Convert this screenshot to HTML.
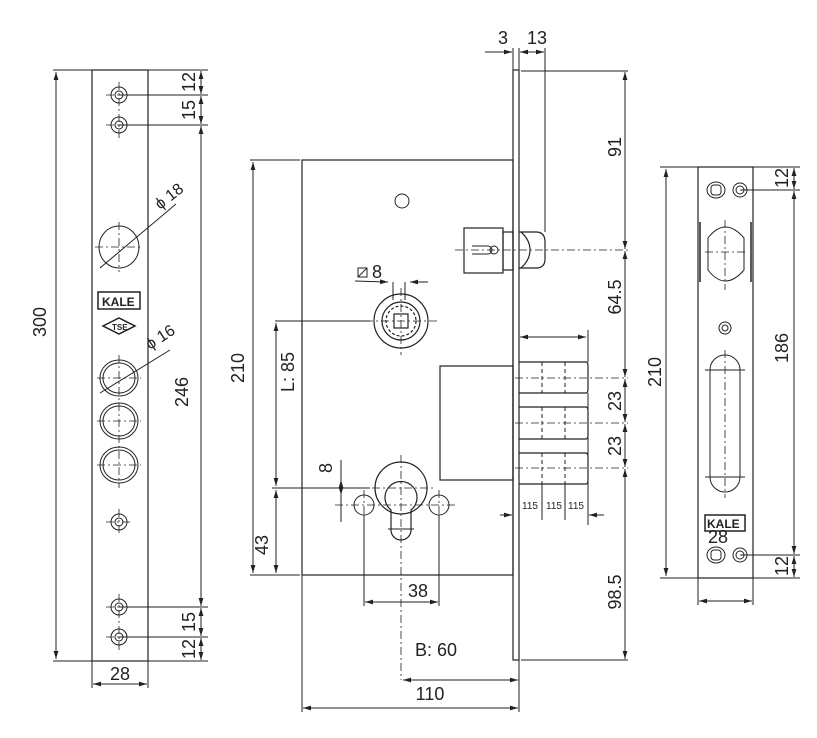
<!DOCTYPE html>
<html><head><meta charset="utf-8"><style>
html,body{margin:0;padding:0;background:#fff;}
svg{display:block;}
text{font-family:"Liberation Sans",sans-serif;fill:#222;}
</style></head><body>
<svg width="817" height="738" viewBox="0 0 817 738" xmlns="http://www.w3.org/2000/svg">
<defs>
<marker id="a" viewBox="0 0 10 10" refX="10" refY="5" markerWidth="8" markerHeight="8" orient="auto-start-reverse" markerUnits="userSpaceOnUse"><path d="M0,2 L10,5 L0,8 z" fill="#222"/></marker>
</defs>
<g stroke="#222" stroke-width="1.2" fill="none">
<!-- LEFT PLATE -->
<rect x="92" y="70" width="56" height="591"/>
<g stroke-width="1">
<line x1="53" y1="70" x2="92" y2="70"/><line x1="53" y1="661" x2="92" y2="661"/>
<line x1="56" y1="72" x2="56" y2="659" marker-start="url(#a)" marker-end="url(#a)"/>
<line x1="148" y1="70" x2="208" y2="70"/><line x1="148" y1="661" x2="208" y2="661"/>
<line x1="119" y1="95" x2="208" y2="95"/><line x1="119" y1="125" x2="208" y2="125"/>
<line x1="119" y1="607" x2="208" y2="607"/><line x1="119" y1="637" x2="208" y2="637"/>
<line x1="201" y1="71" x2="201" y2="94" marker-start="url(#a)" marker-end="url(#a)"/>
<line x1="201" y1="96" x2="201" y2="124" marker-start="url(#a)" marker-end="url(#a)"/>
<line x1="201" y1="126" x2="201" y2="606" marker-start="url(#a)" marker-end="url(#a)"/>
<line x1="201" y1="608" x2="201" y2="636" marker-start="url(#a)" marker-end="url(#a)"/>
<line x1="201" y1="638" x2="201" y2="660" marker-start="url(#a)" marker-end="url(#a)"/>
<line x1="92" y1="661" x2="92" y2="688"/><line x1="148" y1="661" x2="148" y2="688"/>
<line x1="93" y1="684" x2="147" y2="684" marker-start="url(#a)" marker-end="url(#a)"/>
</g>
<!-- holes -->
<g stroke-width="1">
<circle cx="119" cy="95" r="8"/><circle cx="119" cy="95" r="4"/>
<circle cx="119" cy="125" r="8"/><circle cx="119" cy="125" r="4"/>
<circle cx="119" cy="522" r="8"/><circle cx="119" cy="522" r="4"/>
<circle cx="119" cy="607" r="8"/><circle cx="119" cy="607" r="4"/>
<circle cx="119" cy="637" r="8"/><circle cx="119" cy="637" r="4"/>
<ellipse cx="119" cy="247" rx="20" ry="21"/>
<ellipse cx="119" cy="378" rx="19" ry="18"/><ellipse cx="119" cy="378" rx="16" ry="15"/>
<ellipse cx="119" cy="421" rx="19" ry="18"/><ellipse cx="119" cy="421" rx="16" ry="15"/>
<ellipse cx="119" cy="465" rx="19" ry="18"/><ellipse cx="119" cy="465" rx="16" ry="15"/>
<line x1="100" y1="268" x2="176" y2="204"/><line x1="100" y1="393" x2="170" y2="350"/>
</g>
<g stroke-width="0.8" stroke-dasharray="8 3 2 3">
<line x1="119" y1="82" x2="119" y2="138"/><line x1="106" y1="95" x2="132" y2="95"/><line x1="106" y1="125" x2="132" y2="125"/>
<line x1="119" y1="222" x2="119" y2="272"/><line x1="95" y1="247" x2="143" y2="247"/>
<line x1="119" y1="355" x2="119" y2="488"/><line x1="97" y1="378" x2="141" y2="378"/><line x1="97" y1="421" x2="141" y2="421"/><line x1="97" y1="465" x2="141" y2="465"/>
<line x1="106" y1="522" x2="132" y2="522"/><line x1="119" y1="509" x2="119" y2="535"/>
<line x1="119" y1="594" x2="119" y2="650"/><line x1="106" y1="607" x2="132" y2="607"/><line x1="106" y1="637" x2="132" y2="637"/>
</g>
<rect x="98" y="292" width="42" height="17" stroke-width="1.5"/>
<path d="M103,326 L119,318 L135,326 L119,334 Z" stroke-width="1.5"/>

<!-- MAIN LOCK -->
<rect x="302" y="160" width="211" height="415"/>
<rect x="513" y="70" width="6" height="590"/>
<line x1="302" y1="575" x2="302" y2="712" stroke-width="1"/>
<line x1="519" y1="660" x2="519" y2="712" stroke-width="1"/>
<g stroke-width="1">
<line x1="250" y1="160" x2="300" y2="160"/><line x1="250" y1="575" x2="300" y2="575"/>
<line x1="253" y1="162" x2="253" y2="573" marker-start="url(#a)" marker-end="url(#a)"/>
<line x1="275" y1="321" x2="370" y2="321"/><line x1="272" y1="488" x2="370" y2="488"/>
<line x1="276" y1="323" x2="276" y2="486" marker-start="url(#a)" marker-end="url(#a)"/>
<line x1="276" y1="490" x2="276" y2="573" marker-start="url(#a)" marker-end="url(#a)"/>
<line x1="303" y1="708" x2="518" y2="708" marker-start="url(#a)" marker-end="url(#a)"/>
<line x1="403" y1="680" x2="518" y2="680" marker-start="url(#a)" marker-end="url(#a)"/>
<line x1="364" y1="515" x2="364" y2="606"/><line x1="439" y1="515" x2="439" y2="606"/>
<line x1="365" y1="602" x2="438" y2="602" marker-start="url(#a)" marker-end="url(#a)"/>
<line x1="341" y1="460" x2="341" y2="522"/>
<line x1="341" y1="480" x2="341" y2="495" marker-start="url(#a)" marker-end="url(#a)"/>
<!-- top dims -->
<line x1="513" y1="48" x2="513" y2="70"/><line x1="519" y1="48" x2="519" y2="70"/><line x1="545" y1="48" x2="545" y2="232"/>
<line x1="485" y1="52" x2="512" y2="52" marker-end="url(#a)"/>
<line x1="520" y1="52" x2="544" y2="52" marker-start="url(#a)" marker-end="url(#a)"/>
<line x1="521" y1="71" x2="628" y2="71"/><line x1="521" y1="660" x2="628" y2="660"/>
<line x1="625" y1="72" x2="625" y2="249" marker-start="url(#a)" marker-end="url(#a)"/>
<line x1="625" y1="251" x2="625" y2="377" marker-start="url(#a)" marker-end="url(#a)"/>
<line x1="625" y1="379" x2="625" y2="422" marker-start="url(#a)" marker-end="url(#a)"/>
<line x1="625" y1="424" x2="625" y2="467" marker-start="url(#a)" marker-end="url(#a)"/>
<line x1="625" y1="469" x2="625" y2="659" marker-start="url(#a)" marker-end="url(#a)"/>
<line x1="520" y1="337" x2="586" y2="337" marker-start="url(#a)" marker-end="url(#a)"/>
<line x1="588" y1="330" x2="588" y2="362"/>
<line x1="500" y1="515" x2="512" y2="515" marker-end="url(#a)"/>
<line x1="604" y1="515" x2="589" y2="515" marker-end="url(#a)"/>
<line x1="588" y1="393" x2="588" y2="525"/>
<line x1="542" y1="484" x2="542" y2="520"/><line x1="565" y1="484" x2="565" y2="520"/>
<!-- diameter 8 -->
<line x1="355" y1="281" x2="388" y2="282" marker-end="url(#a)"/>
<line x1="428" y1="282" x2="410" y2="282" marker-end="url(#a)"/>
<line x1="393" y1="282" x2="393" y2="300"/><line x1="405" y1="282" x2="405" y2="300"/>
<rect x="358" y="268" width="9" height="9"/><line x1="358" y1="277" x2="367" y2="268"/>
</g>
<circle cx="402" cy="201" r="7" stroke-width="1"/>
<!-- spindle -->
<circle cx="401" cy="321" r="27"/><circle cx="401" cy="321" r="19"/><circle cx="401" cy="321" r="15" stroke-dasharray="3 2"/>
<rect x="394" y="314" width="14" height="14"/>
<!-- latch -->
<rect x="464" y="228" width="39" height="45"/>
<rect x="503" y="232" width="10" height="38"/>
<path d="M519,232 L536,232 Q545,232 545,242 L545,259 Q545,268 536,268 L519,268" fill="none"/>
<path d="M521,232 Q530,240 530,250 Q530,260 521,268" />
<path d="M472,246 L488,246 A4,4 0 0 1 488,254 L472,254" stroke-width="1"/>
<circle cx="494" cy="250" r="4" stroke-width="1"/>
<!-- bolts -->
<rect x="440" y="366" width="73" height="114"/>
<path d="M519,362 L586,362 Q588,362 588,366 L588,389 Q588,393 586,393 L519,393"/>
<path d="M519,407 L586,407 Q588,407 588,411 L588,435 Q588,439 586,439 L519,439"/>
<path d="M519,453 L586,453 Q588,453 588,457 L588,480 Q588,484 586,484 L519,484"/>
<g stroke-width="1" stroke-dasharray="4 3">
<line x1="542" y1="362" x2="542" y2="393"/><line x1="565" y1="362" x2="565" y2="393"/>
<line x1="542" y1="407" x2="542" y2="439"/><line x1="565" y1="407" x2="565" y2="439"/>
<line x1="542" y1="453" x2="542" y2="484"/><line x1="565" y1="453" x2="565" y2="484"/>
</g>
<!-- cylinder -->
<circle cx="401" cy="488" r="26"/>
<path d="M391,510 A16,16 0 1 1 411,510 L411,530 A10,10 0 0 1 391,530 Z"/>
<circle cx="364" cy="505" r="10" stroke-width="1"/><circle cx="439" cy="505" r="10" stroke-width="1"/>
<line x1="388" y1="529" x2="414" y2="529" stroke-width="1"/>
<g stroke-width="0.8" stroke-dasharray="8 3 2 3">
<line x1="401" y1="455" x2="401" y2="680"/><line x1="340" y1="488" x2="435" y2="488"/>
<line x1="335" y1="505" x2="455" y2="505"/>
<line x1="364" y1="490" x2="364" y2="520"/><line x1="439" y1="490" x2="439" y2="520"/>
<line x1="401" y1="288" x2="401" y2="355"/><line x1="365" y1="321" x2="437" y2="321"/>
<line x1="455" y1="250" x2="628" y2="250"/>
<line x1="515" y1="378" x2="628" y2="378"/><line x1="515" y1="423" x2="628" y2="423"/><line x1="515" y1="468" x2="628" y2="468"/>
</g>

<!-- RIGHT PLATE -->
<rect x="698" y="167" width="55" height="411"/>
<g stroke-width="1">
<line x1="660" y1="167" x2="698" y2="167"/><line x1="660" y1="578" x2="698" y2="578"/>
<line x1="666" y1="169" x2="666" y2="576" marker-start="url(#a)" marker-end="url(#a)"/>
<line x1="753" y1="167" x2="800" y2="167"/><line x1="753" y1="578" x2="800" y2="578"/>
<line x1="740" y1="190" x2="800" y2="190"/><line x1="740" y1="555" x2="800" y2="555"/>
<line x1="794" y1="168" x2="794" y2="189" marker-start="url(#a)" marker-end="url(#a)"/>
<line x1="794" y1="191" x2="794" y2="554" marker-start="url(#a)" marker-end="url(#a)"/>
<line x1="794" y1="556" x2="794" y2="577" marker-start="url(#a)" marker-end="url(#a)"/>
<line x1="698" y1="578" x2="698" y2="605"/><line x1="753" y1="578" x2="753" y2="605"/>
<line x1="699" y1="601" x2="752" y2="601" marker-start="url(#a)" marker-end="url(#a)"/>
<ellipse cx="716" cy="190" rx="9" ry="8"/><rect x="711" y="185" width="10" height="10" rx="3"/>
<circle cx="740" cy="190" r="7"/><circle cx="740" cy="190" r="4"/>
<ellipse cx="716" cy="555" rx="9" ry="8"/><rect x="711" y="550" width="10" height="10" rx="3"/>
<circle cx="740" cy="555" r="7"/><circle cx="740" cy="555" r="4"/>
<circle cx="725" cy="328" r="6"/><circle cx="725" cy="328" r="3"/>
<path d="M708,238 Q725,216 744,238 L744,270 Q725,292 708,270 Z"/>
<line x1="700" y1="222" x2="700" y2="282" stroke-width="1.5"/><line x1="751" y1="222" x2="751" y2="282" stroke-width="1.5"/>
<path d="M710,370 A15,15 0 0 1 740,370 L740,477 A15,15 0 0 1 710,477 Z"/>
<line x1="705" y1="370" x2="745" y2="370"/><line x1="705" y1="477" x2="745" y2="477"/>
</g>
<rect x="705" y="515" width="40" height="16" stroke-width="1.5"/>
<g stroke-width="0.8" stroke-dasharray="8 3 2 3">
<line x1="725" y1="220" x2="725" y2="290"/><line x1="705" y1="252" x2="748" y2="252"/>
<line x1="725" y1="350" x2="725" y2="498"/>
</g>
</g>
<!-- TEXT -->
<g font-size="18">
<text x="46" y="322" transform="rotate(-90 46 322)" text-anchor="middle">300</text>
<text x="195" y="82" transform="rotate(-90 195 82)" text-anchor="middle">12</text>
<text x="195" y="110" transform="rotate(-90 195 110)" text-anchor="middle">15</text>
<text x="188" y="392" transform="rotate(-90 188 392)" text-anchor="middle">246</text>
<text x="195" y="622" transform="rotate(-90 195 622)" text-anchor="middle">15</text>
<text x="195" y="649" transform="rotate(-90 195 649)" text-anchor="middle">12</text>
<text x="120" y="680" text-anchor="middle">28</text>
<text x="160" y="210" transform="rotate(-38 160 210)" font-size="16">ϕ 18</text>
<text x="150" y="350" transform="rotate(-33 150 350)" font-size="16">ϕ 16</text>
<text x="102" y="306" font-size="12" font-weight="bold">KALE</text>
<text x="112" y="330" font-size="8" font-weight="bold">TSE</text>
<text x="244" y="368" transform="rotate(-90 244 368)" text-anchor="middle">210</text>
<text x="294" y="372" transform="rotate(-90 294 372)" text-anchor="middle">L: 85</text>
<text x="268" y="545" transform="rotate(-90 268 545)" text-anchor="middle">43</text>
<text x="332" y="468" transform="rotate(-90 332 468)" text-anchor="middle">8</text>
<text x="372" y="278">8</text>
<text x="418" y="597" text-anchor="middle">38</text>
<text x="436" y="656" text-anchor="middle">B: 60</text>
<text x="430" y="700" text-anchor="middle">110</text>
<text x="503" y="44" text-anchor="middle">3</text>
<text x="537" y="44" text-anchor="middle">13</text>
<text x="621" y="147" transform="rotate(-90 621 147)" text-anchor="middle">91</text>
<text x="621" y="297" transform="rotate(-90 621 297)" text-anchor="middle">64.5</text>
<text x="621" y="401" transform="rotate(-90 621 401)" text-anchor="middle">23</text>
<text x="621" y="446" transform="rotate(-90 621 446)" text-anchor="middle">23</text>
<text x="621" y="592" transform="rotate(-90 621 592)" text-anchor="middle">98.5</text>
<text x="530" y="509" font-size="10" text-anchor="middle">115</text>
<text x="554" y="509" font-size="10" text-anchor="middle">115</text>
<text x="576" y="509" font-size="10" text-anchor="middle">115</text>
<text x="661" y="372" transform="rotate(-90 661 372)" text-anchor="middle">210</text>
<text x="788" y="348" transform="rotate(-90 788 348)" text-anchor="middle">186</text>
<text x="788" y="178" transform="rotate(-90 788 178)" text-anchor="middle">12</text>
<text x="788" y="566" transform="rotate(-90 788 566)" text-anchor="middle">12</text>
<text x="707" y="528" font-size="12" font-weight="bold">KALE</text>
<text x="718" y="543" text-anchor="middle">28</text>
</g>
</svg>
</body></html>
